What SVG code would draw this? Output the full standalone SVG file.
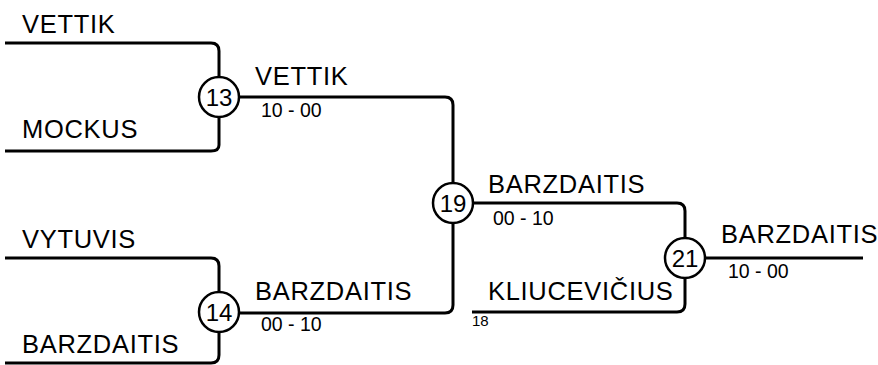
<svg xmlns="http://www.w3.org/2000/svg" width="878" height="365" viewBox="0 0 878 365">
<style>
.ln{fill:none;stroke:#000;stroke-width:3}
.c{fill:#fff;stroke:#000;stroke-width:2.5}
.nm{font-family:"Liberation Sans",Arial,sans-serif;font-size:25.5px;letter-spacing:0.7px;fill:#000}
.sc{font-family:"Liberation Sans",Arial,sans-serif;font-size:19.5px;fill:#000}
.sm{font-family:"Liberation Sans",Arial,sans-serif;font-size:15px;fill:#000}
.cn{font-family:"Liberation Sans",Arial,sans-serif;font-size:24px;fill:#000;text-anchor:middle}
</style>
<rect width="878" height="365" fill="#fff"/>
<g id="connectors">
<path class="ln" d="M5,43 H211 Q219,43 219,51 V145 Q219,151 211,151 H5"/>
<path class="ln" d="M5,258 H211 Q219,258 219,266 V355 Q219,363 211,363 H5"/>
<path class="ln" d="M219,97 H445 Q453,97 453,105 V305 Q453,313 445,313 H219"/>
<path class="ln" d="M453,203 H677 Q685,203 685,211 V304 Q685,312 677,312 H472"/>
<path class="ln" d="M685,258 H863"/>
</g>
<g id="labels">
<text class="nm" x="22" y="33">VETTIK</text>
<text class="nm" x="22" y="138">MOCKUS</text>
<text class="nm" x="22" y="248">VYTUVIS</text>
<text class="nm" x="22" y="353">BARZDAITIS</text>
<text class="nm" x="255" y="85">VETTIK</text>
<text class="sc" x="261" y="117">10 - 00</text>
<text class="nm" x="255" y="300">BARZDAITIS</text>
<text class="sc" x="261" y="331">00 - 10</text>
<text class="nm" x="488" y="193">BARZDAITIS</text>
<text class="sc" x="493" y="225">00 - 10</text>
<text class="nm" x="488" y="300">KLIUCEVIČIUS</text>
<text class="sm" x="472" y="326">18</text>
<text class="nm" x="721" y="243">BARZDAITIS</text>
<text class="sc" x="728" y="278">10 - 00</text>
</g>
<g id="node13"><circle class="c" cx="219" cy="97" r="20"/><text class="cn" x="219" y="106">13</text></g>
<g id="node14"><circle class="c" cx="219" cy="312" r="20"/><text class="cn" x="219" y="321">14</text></g>
<g id="node19"><circle class="c" cx="453" cy="203" r="20"/><text class="cn" x="453" y="212">19</text></g>
<g id="node21"><circle class="c" cx="685" cy="258" r="20"/><text class="cn" x="685" y="267">21</text></g>
</svg>
